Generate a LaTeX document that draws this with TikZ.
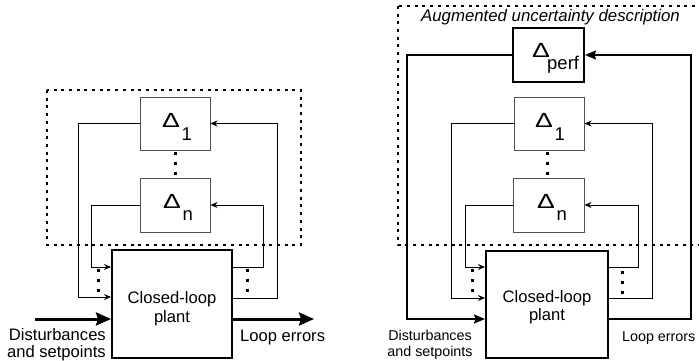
\documentclass[tikz,border=0pt]{standalone}
\usepackage{fontspec}
\setmainfont{Liberation Sans}
\usetikzlibrary{arrows.meta,calc}
\newcommand{\wideDelta}{\scalebox{1.3}[1]{Δ}}
\begin{document}
\begin{tikzpicture}[x=1pt,y=-1pt,
  thinbox/.style={draw={rgb,255:red,80;green,80;blue,80}, line width=1pt, inner sep=0pt},
  thickbox/.style={draw=black, line width=2pt, inner sep=0pt},
  conn/.style={draw=black, line width=1pt, -{Stealth[length=7pt,width=6pt]}},
  bigconn/.style={draw=black, line width=3pt, -{Stealth[length=15pt,width=13pt,inset=2pt]}},
  medconn/.style={draw=black, line width=2pt, -{Stealth[length=11pt,width=9pt,inset=1.5pt]}},
  dotbox/.style={draw=black, line width=2pt, dash pattern=on 3pt off 4.7pt},
  vdots/.style={draw=black, line width=3pt, dash pattern=on 3pt off 7pt},
  lbl/.style={font=\fontsize{16.6}{19}\selectfont, inner sep=0pt},
  slbl/.style={font=\fontsize{14.3}{16}\selectfont, inner sep=0pt},
  dtxt/.style={font=\fontsize{20.5}{22}\selectfont, inner sep=0pt},
  stxt/.style={font=\fontsize{18.5}{20}\selectfont, inner sep=0pt},
]
\fill[white] (0,0) rectangle (699,361);
\useasboundingbox (0,0) rectangle (699,361);

% ---------------- left diagram ----------------
\draw[dotbox] (47,90) rectangle (301,245);
\node[thinbox, minimum width=70pt, minimum height=53pt] (d1) at (175,123.5) {};
\node[thinbox, minimum width=70pt, minimum height=54pt] (dn) at (175,205) {};
\node[thickbox, minimum width=120pt, minimum height=108pt] (plant) at (172,304) {};

\node[dtxt, anchor=base west] (d1a) at (162,127) {\wideDelta};
\node[stxt, anchor=base west] (d1b) at (181.5,140) {1};
\node[dtxt, anchor=base west] (dna) at (163,208.5) {\wideDelta};
\node[stxt, anchor=base west] (dnb) at (182.5,220) {n};

\node[lbl, anchor=base] (pl1) at (172,303) {Closed-loop};
\node[lbl, anchor=base] (pl2) at (172,322) {plant};

\draw[vdots] (175,151.5) -- (175,176);
\draw[vdots] (98,268.5) -- (98,293);
\draw[vdots] (247,268.5) -- (247,293);

\draw[conn] (d1.west) -- ++(-61,0) |- ($(plant.west)+(0,-7)$);
\draw[conn] (dn.west) -- ++(-48,0) |- ($(plant.west)+(0,-37)$);
\draw[conn] ($(plant.east)+(0,-37)$) -- ++(30,0) |- (dn.east);
\draw[conn] ($(plant.east)+(0,-6)$) -- ++(44,0) |- (d1.east);

\coordinate (in1) at (35,319);
\coordinate (out1) at (314,319);
\draw[bigconn] (in1) -- ($(plant.west)+(0,15)$);
\draw[bigconn] ($(plant.east)+(0,15)$) -- (out1);

\node[lbl, anchor=base east] (dist1) at (106,340) {Disturbances};
\node[lbl, anchor=base east] (dist2) at (106,357) {and setpoints};
\node[lbl, anchor=base west] (err1) at (240,341) {Loop errors};

% ---------------- right diagram ----------------
\draw[dotbox] (398,6) rectangle (704,245);
\node[font=\fontsize{16.8}{19}\selectfont\itshape, inner sep=0pt, anchor=base] (aug) at (550.5,22) {Augmented uncertainty description};

\node[thickbox, minimum width=71pt, minimum height=54pt] (dp) at (548.5,55) {};
\node[thinbox, minimum width=70pt, minimum height=53pt] (r1) at (549,123.5) {};
\node[thinbox, minimum width=71pt, minimum height=54pt] (rn) at (548.5,205) {};
\node[thickbox, minimum width=122pt, minimum height=107pt] (plantR) at (547,304.5) {};

\node[dtxt, anchor=base west] (dpa) at (532,58) {\wideDelta};
\node[stxt, anchor=base west] (dpb) at (547,70) {perf};
\node[dtxt, anchor=base west] (r1a) at (535,128) {\wideDelta};
\node[stxt, anchor=base west] (r1b) at (554.5,140.5) {1};
\node[dtxt, anchor=base west] (rna) at (537,208.5) {\wideDelta};
\node[stxt, anchor=base west] (rnb) at (556.5,220) {n};

\node[lbl, anchor=base] (pr1) at (547,302) {Closed-loop};
\node[lbl, anchor=base] (pr2) at (547,320.5) {plant};

\draw[vdots] (547,151.5) -- (547,176);
\draw[vdots] (472,268.5) -- (472,293);
\draw[vdots] (622,270.5) -- (622,295);

\draw[medconn] (dp.west) -- ++(-105,0) |- ($(plantR.west)+(0,14.5)$);
\draw[conn] (r1.west) -- ++(-62,0) |- ($(plantR.west)+(0,-6.5)$);
\draw[conn] (rn.west) -- ++(-47,0) |- ($(plantR.west)+(0,-37.5)$);
\draw[conn] ($(plantR.east)+(0,-37.5)$) -- ++(29,0) |- (rn.east);
\draw[conn] ($(plantR.east)+(0,-6.5)$) -- ++(43,0) |- (r1.east);
\draw[medconn] ($(plantR.east)+(0,14.5)$) -- ++(82,0) |- (dp.east);

\node[slbl, anchor=base] (dist3) at (430,340) {Disturbances};
\node[slbl, anchor=base] (dist4) at (430,356) {and setpoints};
\node[slbl, anchor=base west] (err2) at (622,341) {Loop errors};
\end{tikzpicture}
\end{document}
